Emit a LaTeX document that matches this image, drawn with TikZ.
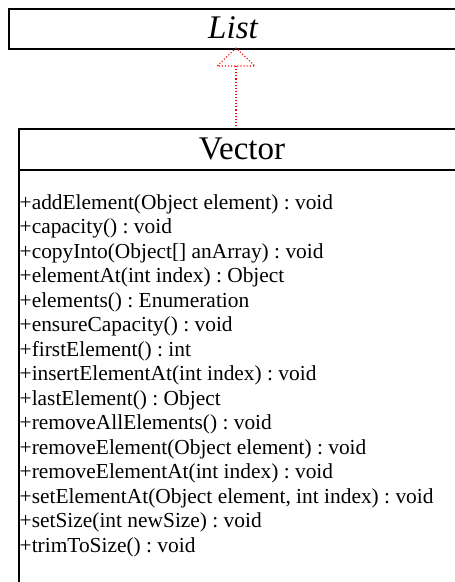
\documentclass[tikz,border=0pt]{standalone}
\usepackage{fontspec}
\setmainfont{Liberation Serif}
\begin{document}
\frenchspacing
\begin{tikzpicture}[x=1pt,y=-1pt,
  boxline/.style={draw=black, line width=1.6pt},
  title/.style={font=\fontsize{33}{38}\selectfont, anchor=base, inner sep=0pt},
  member/.style={font=\fontsize{21.4}{24.5}\selectfont\frenchspacing, anchor=base west, inner sep=0pt},
  realize/.style={draw=red, dotted, line width=1.1pt}]
\useasboundingbox (0,0) rectangle (455,582);
\clip (0,0) rectangle (455,582);
% List interface box
\node[boxline, rectangle, anchor=north west, minimum width=450pt, minimum height=40pt, inner sep=0pt] (list) at (8,8) {};
\node[title, font=\fontsize{33}{38}\selectfont\itshape] (listname) at (233,38) {List};
% Vector class box
\node[boxline, rectangle, anchor=north west, minimum width=448pt, minimum height=470pt, inner sep=0pt] (vector) at (18,128) {};
\coordinate (sepL) at (18,170);
\coordinate (sepR) at (466,170);
\draw[line width=1.4pt] (sepL) -- (sepR);
\node[title] (vectorname) at (242,159) {Vector};
% methods
\foreach \t [count=\i from 0] in {
  +addElement(Object element) : void,
  +capacity() : void,
  +copyInto(Object[] anArray) : void,
  +elementAt(int index) : Object,
  +elements() : Enumeration,
  +ensureCapacity() : void,
  +firstElement() : int,
  +insertElementAt(int index) : void,
  +lastElement() : Object,
  +removeAllElements() : void,
  +removeElement(Object element) : void,
  +removeElementAt(int index) : void,
  {+setElementAt(Object element, int index) : void},
  +setSize(int newSize) : void,
  +trimToSize() : void}
  \node[member] (m\i) at (19.5, 209+24.5*\i) {\t};
% realization arrow
\coordinate (tip) at (236,48);
\coordinate (base) at (236,66);
\draw[realize] (base) -- (vector.north -| base);
\draw[realize] (tip) -- ++(-19,18) -- ++(38,0) -- cycle;
\end{tikzpicture}
\end{document}
